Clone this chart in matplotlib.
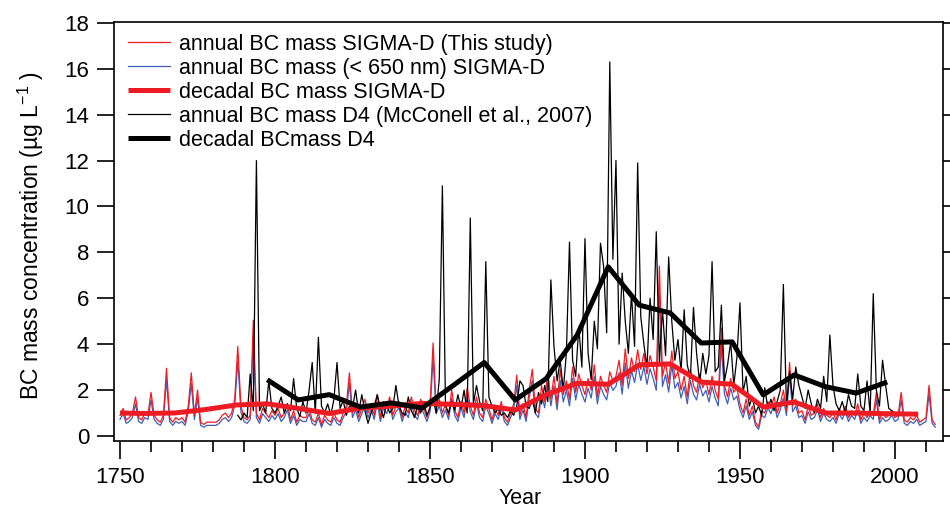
import numpy as np
import matplotlib.pyplot as plt

plt.rcParams['font.family'] = ['Liberation Sans', 'DejaVu Sans']
plt.rcParams['mathtext.fontset'] = 'custom'
plt.rcParams['mathtext.rm'] = 'Liberation Sans'
plt.rcParams['mathtext.it'] = 'Liberation Sans:italic'

# SIGMA-D annual BC mass, 1750-2013 (ug/L)
sigma_years = np.arange(1750, 2014)
sigma_annual = [
    0.9, 1.2, 0.7, 0.8, 1.0, 1.7, 0.8, 0.7, 1.0, 0.9,
    1.9, 0.9, 0.7, 0.6, 0.9, 2.95, 0.8, 0.6, 0.8, 0.7,
    0.8, 0.6, 1.3, 2.75, 0.9, 2.0, 0.6, 0.5, 0.6, 0.6,
    0.6, 0.6, 0.7, 0.9, 1.0, 0.8, 1.0, 1.6, 3.9, 1.3,
    0.8, 0.7, 0.9, 5.05, 1.0, 0.7, 1.2, 1.0, 0.8, 1.1,
    0.9, 1.2, 0.8, 1.0, 1.4, 0.7, 1.1, 0.6, 0.9, 0.8,
    0.8, 1.2, 0.7, 0.6, 1.0, 0.5, 0.9, 0.7, 0.6, 1.0,
    0.7, 0.6, 1.0, 1.3, 2.75, 1.0, 1.4, 0.8, 1.2, 1.6,
    1.0, 1.4, 0.9, 1.8, 0.8, 1.5, 1.2, 1.7, 0.9, 1.3,
    1.5, 0.8, 1.3, 1.0, 1.7, 1.1, 0.9, 1.6, 1.2, 0.8,
    1.3, 4.05, 1.2, 1.6, 1.0, 1.4, 0.9, 2.0, 1.1, 0.8,
    1.5, 1.0, 2.1, 1.3, 0.9, 1.7, 1.0, 0.8, 1.6, 1.2,
    0.7, 1.2, 0.9, 1.5, 0.8, 0.6, 1.0, 1.4, 2.65, 0.9,
    1.4, 0.8, 2.0, 2.9, 1.2, 1.0, 2.2, 1.5, 2.8, 1.6,
    2.6, 1.4, 2.9, 1.8, 2.4, 1.6, 3.0, 1.9, 2.7, 2.2,
    1.8, 2.5, 2.0, 3.1, 1.7, 2.6, 2.2, 1.9, 2.8, 2.4,
    2.6, 3.3, 2.2, 3.8, 2.5, 3.4, 2.8, 3.75, 2.9, 3.6,
    2.7, 3.5, 3.0, 2.4, 7.4, 2.6, 3.2, 2.3, 3.7, 2.5,
    2.8, 2.0, 2.6, 1.7, 2.9, 2.2, 1.9, 2.7, 2.1, 2.4,
    1.8, 2.6, 2.0, 1.6, 4.7, 2.2, 1.7, 2.5, 1.9, 2.1,
    1.4, 1.0, 1.6, 0.9, 1.3, 0.6, 0.4, 1.1, 1.0, 1.5,
    1.2, 1.7, 1.0, 1.4, 2.0, 1.1, 3.2, 1.3, 1.6, 1.0,
    1.1, 0.7, 1.3, 0.9, 1.0, 1.4, 0.8, 1.2, 0.9, 0.8,
    1.0, 0.7, 1.2, 0.9, 1.3, 0.8, 1.1, 0.9, 1.4, 0.7,
    1.0, 0.8, 1.1, 0.9, 1.9, 0.7, 1.0, 0.8, 0.9, 1.1,
    0.8, 0.9, 1.9, 0.7, 0.6, 0.8, 0.7, 0.9, 0.6, 0.7,
    0.8, 2.2, 0.7, 0.5,
]

# SIGMA-D annual BC mass, particles < 650 nm
sigma_annual_650 = [
    0.72, 0.97, 0.55, 0.63, 0.80, 1.40, 0.63, 0.55, 0.80, 0.72,
    1.57, 0.72, 0.55, 0.46, 0.72, 2.46, 0.63, 0.46, 0.63, 0.55,
    0.63, 0.46, 1.05, 2.29, 0.72, 1.65, 0.46, 0.38, 0.46, 0.46,
    0.46, 0.46, 0.55, 0.72, 0.80, 0.63, 0.80, 1.31, 3.27, 1.05,
    0.63, 0.55, 0.72, 4.24, 0.80, 0.55, 0.97, 0.80, 0.63, 0.89,
    0.72, 0.97, 0.63, 0.80, 1.14, 0.55, 0.89, 0.46, 0.72, 0.63,
    0.63, 0.97, 0.55, 0.46, 0.80, 0.38, 0.72, 0.55, 0.46, 0.80,
    0.55, 0.46, 0.80, 1.05, 2.29, 0.80, 1.14, 0.63, 0.97, 1.31,
    0.80, 1.14, 0.72, 1.48, 0.63, 1.23, 0.97, 1.40, 0.72, 1.05,
    1.23, 0.63, 1.05, 0.80, 1.40, 0.89, 0.72, 1.31, 0.97, 0.63,
    1.05, 3.39, 0.97, 1.31, 0.80, 1.14, 0.72, 1.65, 0.89, 0.63,
    1.23, 0.80, 1.74, 1.05, 0.72, 1.40, 0.80, 0.63, 1.31, 0.97,
    0.55, 0.97, 0.72, 1.23, 0.63, 0.46, 0.80, 1.14, 2.20, 0.72,
    1.14, 0.63, 1.65, 2.42, 0.97, 0.80, 1.82, 1.23, 2.33, 1.31,
    2.16, 1.14, 2.42, 1.48, 1.99, 1.31, 2.50, 1.57, 2.25, 1.82,
    1.48, 2.08, 1.65, 2.59, 1.40, 2.16, 1.82, 1.57, 2.33, 1.99,
    2.16, 2.76, 1.82, 3.18, 2.08, 2.84, 2.33, 3.14, 2.42, 3.01,
    2.25, 2.93, 2.50, 1.99, 6.24, 2.16, 2.67, 1.91, 3.10, 2.08,
    2.33, 1.65, 2.16, 1.40, 2.42, 1.82, 1.57, 2.25, 1.74, 1.99,
    1.48, 2.16, 1.65, 1.31, 3.95, 1.82, 1.40, 2.08, 1.57, 1.74,
    1.14, 0.80, 1.31, 0.72, 1.05, 0.46, 0.29, 0.89, 0.80, 1.23,
    0.97, 1.40, 0.80, 1.14, 1.65, 0.89, 2.67, 1.05, 1.31, 0.80,
    0.89, 0.55, 1.05, 0.72, 0.80, 1.14, 0.63, 0.97, 0.72, 0.63,
    0.80, 0.55, 0.97, 0.72, 1.05, 0.63, 0.89, 0.72, 1.14, 0.55,
    0.80, 0.63, 0.89, 0.72, 1.57, 0.55, 0.80, 0.63, 0.72, 0.89,
    0.63, 0.72, 1.57, 0.55, 0.46, 0.63, 0.55, 0.72, 0.46, 0.55,
    0.63, 1.82, 0.55, 0.38,
]

# SIGMA-D decadal means
sigma_decadal_years = [1750, 1757.5, 1767.5, 1777.5, 1787.5, 1797.5, 1807.5,
                       1817.5, 1827.5, 1837.5, 1847.5, 1857.5, 1867.5, 1877.5,
                       1887.5, 1897.5, 1907.5, 1917.5, 1927.5, 1937.5, 1947.5,
                       1957.5, 1967.5, 1977.5, 1987.5, 1997.5, 2007.5]
sigma_decadal = [1.0, 0.98, 1.0, 1.15, 1.35, 1.4, 1.2, 0.98, 1.22, 1.3, 1.42,
                 1.38, 1.32, 1.13, 1.8, 2.3, 2.25, 3.1, 3.14, 2.35, 2.25,
                 1.26, 1.48, 1.0, 1.0, 0.97, 0.95]

# D4 core annual BC mass (McConnell et al., 2007), 1788-2002
d4_years = np.arange(1788, 2003)
d4_annual = [
    0.9, 0.7,
    1.0, 0.8, 2.7, 1.1, 12.0, 1.1, 1.4, 1.0, 2.4, 1.2,
    1.0, 1.3, 1.7, 1.0, 1.4, 1.1, 2.5, 1.2, 0.85, 1.5,
    1.0, 2.0, 3.2, 1.0, 4.3, 1.3, 1.0, 1.4, 0.9, 1.6,
    3.2, 1.2, 1.55, 0.9, 1.3, 1.2, 2.0, 1.0, 1.8, 1.1,
    0.55, 1.0, 1.3, 1.8, 1.2, 0.8, 1.4, 1.0, 1.2, 2.2,
    1.3, 1.0, 0.9, 1.7, 1.1, 0.8, 1.3, 1.0, 1.5, 0.9,
    1.2, 1.6, 1.0, 2.5, 10.9, 1.3, 1.0, 1.5, 1.1, 1.8,
    1.2, 2.0, 1.0, 9.5, 1.4, 2.2, 1.5, 1.1, 7.6, 1.7,
    1.3, 1.0, 1.2, 0.9, 1.0, 0.8, 1.1, 0.9, 1.3, 2.4,
    2.2, 1.3, 1.2, 1.6, 1.0, 1.9, 1.4, 2.2, 1.5, 6.8,
    3.9, 2.4, 3.3, 2.0, 3.6, 8.45, 3.3, 2.6, 4.75, 3.0,
    8.6, 3.6, 2.45, 5.0, 3.8, 8.4, 7.4, 4.5, 16.3, 7.7,
    12.0, 4.0, 7.1, 5.0, 3.6, 6.2, 3.9, 11.9, 5.2, 4.0,
    3.0, 6.0, 4.2, 8.9, 3.2, 5.5, 3.5, 7.8, 5.0, 3.3,
    4.2, 2.8, 5.5, 3.1, 2.5, 5.6, 3.6, 2.3, 3.6, 2.7,
    3.5, 7.6, 2.8, 3.0, 5.7, 2.4, 3.1, 4.1, 2.2, 3.4,
    5.8, 1.9, 2.6, 1.3, 1.7, 1.0, 1.3, 0.9, 2.1, 1.2,
    1.6, 1.1, 1.5, 2.0, 6.6, 1.3, 2.8, 1.6, 3.0, 2.2,
    1.7, 1.2, 2.0, 1.4, 1.0, 1.6, 1.2, 2.6, 1.5, 4.4,
    2.2, 1.4, 1.1, 1.5, 1.0, 1.8, 1.3, 1.2, 2.7, 1.3,
    1.1, 2.4, 1.0, 6.2, 2.0, 1.3, 3.3, 2.2, 1.2, 1.1,
    1.0, 1.0, 0.9,
]

# D4 decadal means
d4_decadal_years = [1797.5, 1807.5, 1817.5, 1827.5, 1837.5, 1847.5, 1857.5,
                    1867.5, 1877.5, 1887.5, 1897.5, 1907.5, 1917.5, 1927.5,
                    1937.5, 1947.5, 1957.5, 1967.5, 1977.5, 1987.5, 1997.5]
d4_decadal = [2.45, 1.57, 1.8, 1.26, 1.44, 1.22, 2.2, 3.2, 1.57, 2.5, 4.4,
              7.37, 5.7, 5.36, 4.05, 4.1, 1.79, 2.66, 2.15, 1.87, 2.35]

red = '#ed1c24'
blue = '#3f5fb5'

fig = plt.figure(figsize=(9.5, 5.08), dpi=100)
ax = fig.add_axes([114 / 950, 1 - 441 / 508, 829 / 950, 419 / 508])

l_blue, = ax.plot(sigma_years, sigma_annual_650, color=blue, lw=0.9,
                  label='annual BC mass (< 650 nm) SIGMA-D')
l_red, = ax.plot(sigma_years, sigma_annual, color=red, lw=0.9,
                 label='annual BC mass SIGMA-D (This study)')
l_d4, = ax.plot(d4_years, d4_annual, color='black', lw=0.9,
                label='annual BC mass D4 (McConell et al., 2007)')
l_red_dec, = ax.plot(sigma_decadal_years, sigma_decadal, color=red, lw=3.6,
                     solid_capstyle='butt', label='decadal BC mass SIGMA-D')
l_d4_dec, = ax.plot(d4_decadal_years, d4_decadal, color='black', lw=3.6,
                    solid_capstyle='butt', label='decadal BCmass D4')

ax.set_xlim(1748.06, 2015.5)
ax.set_ylim(-0.22, 18.04)
ax.set_yticks(np.arange(0, 19, 2))
ax.set_xticks(np.arange(1750, 2001, 50))
ax.set_xticks(np.arange(1750, 2016, 10), minor=True)

for s in ax.spines.values():
    s.set_linewidth(1.2)
ax.tick_params(axis='y', which='major', direction='out', length=12, width=1.2,
               labelsize=16, pad=6, right=True)
ax.tick_params(axis='x', which='major', direction='out', length=13, width=1.2,
               labelsize=16, pad=6)
ax.tick_params(axis='x', which='minor', direction='out', length=8, width=1.2)

ax.set_ylabel(r'BC mass concentration (µg L$^{-1}$ )', fontsize=16.5)
ax.yaxis.set_label_coords(-0.082, 0.49)
ax.set_xlabel('Year', fontsize=15.5)
ax.xaxis.set_label_coords(0.49, -0.112)

ax.legend(handles=[l_red, l_blue, l_red_dec, l_d4, l_d4_dec],
          loc='upper left', bbox_to_anchor=(0.017, 0.972), frameon=False,
          fontsize=15.5, handlelength=1.95, handletextpad=0.4,
          labelspacing=0.14, borderpad=0, borderaxespad=0)

fig.savefig('out.png', dpi=100)
